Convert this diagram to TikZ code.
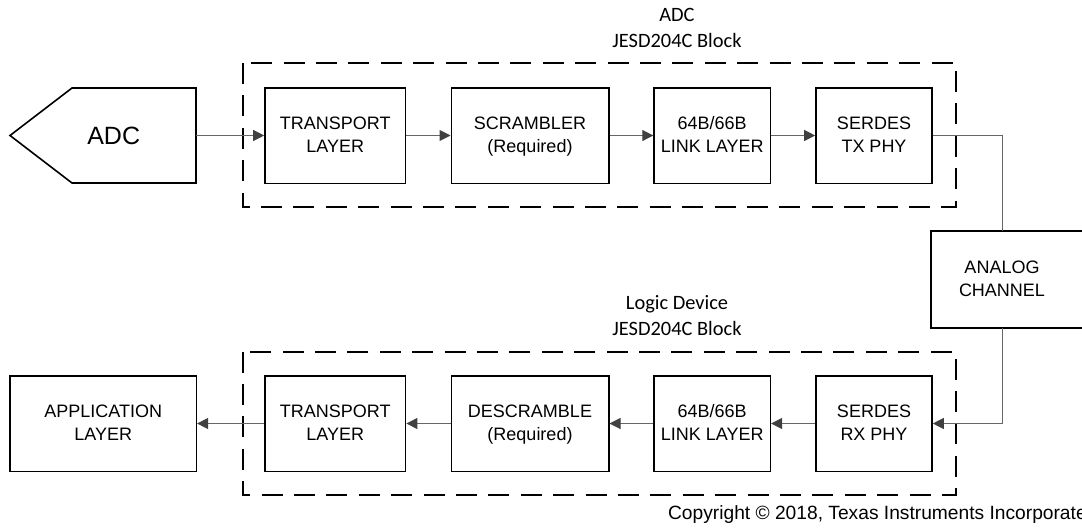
\documentclass[tikz,border=0pt]{standalone}
\usepackage{fontspec}
\setmainfont{Liberation Sans}
\newfontfamily\lblfont{Carlito}
\usetikzlibrary{positioning,arrows.meta}

% line break with equal struts on both lines
\newcommand\blkbr{\rule[-2.9pt]{0pt}{11.2pt}\\\rule[-2.9pt]{0pt}{11.2pt}}

\tikzset{
    blk/.style={draw, line width=0.8pt, minimum height=47.8pt, inner sep=0pt,
        align=center, font=\fontsize{9}{11.2}\selectfont},
    wire/.style={draw=black!60, line width=0.5pt},
    conn/.style={wire, -{Triangle[length=5.5pt,width=5.5pt,color=black!75]}},
    dashbox/.style={line width=1pt, dash pattern=on 10.5pt off 5.7pt},
    lbl/.style={align=center, font=\lblfont\fontsize{10.2}{12.8}\selectfont}
}

\begin{document}
\begin{tikzpicture}[x=0.5pt,y=-0.5pt]
    \useasboundingbox (0,0) rectangle (1082,531);

    % ADC side (transmit)
    \node[lbl] (lbltx) at (677,28) {ADC\\JESD204C Block};
    \draw[dashbox] (243,63) rectangle (956,207);

    \draw[line width=0.8pt] (10,135.5) -- (72,88) -- (196,88) -- (196,183)
        -- (72,183) -- cycle;
    \node[font=\fontsize{12.5}{15}\selectfont] (adc) at (113.7,135.5) {ADC};
    \coordinate (adcout) at (196,135.5);

    \node[blk, minimum width=70.3pt] (tptx) at (335.3,135.5) {TRANSPORT\blkbr LAYER};
    \node[blk, minimum width=78.7pt] (scr) at (530,135.5) {SCRAMBLER\blkbr (Required)};
    \node[blk, minimum width=58.1pt] (lnktx) at (712.2,135.5) {64B/66B\blkbr LINK LAYER};
    \node[blk, minimum width=58pt] (phytx) at (874,135.5) {SERDES\blkbr TX PHY};

    \draw[conn] (adcout) -- (tptx);
    \draw[conn] (tptx) -- (scr);
    \draw[conn] (scr) -- (lnktx);
    \draw[conn] (lnktx) -- (phytx);

    % Analog channel (box runs off the right edge)
    \node[blk, draw=none, minimum width=70pt] (ach) at (1002,279.5) {ANALOG\blkbr CHANNEL};
    \draw[line width=0.8pt] ([xshift=60pt]ach.north east) -- (ach.north west)
        -- (ach.south west) -- ([xshift=60pt]ach.south east);

    % Logic device side (receive)
    \node[lbl] (lblrx) at (677,315.3) {Logic Device\\JESD204C Block};
    \draw[dashbox] (243,351.5) rectangle (956,495);

    \node[blk, minimum width=93.1pt] (app) at (103.2,423.5) {APPLICATION\blkbr LAYER};
    \node[blk, minimum width=70.3pt] (tprx) at (335.3,423.5) {TRANSPORT\blkbr LAYER};
    \node[blk, minimum width=78.7pt] (dscr) at (530,423.5) {DESCRAMBLE\blkbr (Required)};
    \node[blk, minimum width=58.1pt] (lnkrx) at (712.2,423.5) {64B/66B\blkbr LINK LAYER};
    \node[blk, minimum width=58pt] (phyrx) at (874,423.5) {SERDES\blkbr RX PHY};

    \draw[wire] (phytx.east) -| (ach.north);
    \draw[conn] (ach.south) |- (phyrx.east);
    \draw[conn] (phyrx) -- (lnkrx);
    \draw[conn] (lnkrx) -- (dscr);
    \draw[conn] (dscr) -- (tprx);
    \draw[conn] (tprx) -- (app);

    \node[anchor=west, inner sep=0pt, font=\fontsize{9.6}{11}\selectfont] (cpy)
        at (667.7,515) {Copyright © 2018, Texas Instruments Incorporated};
\end{tikzpicture}
\end{document}
